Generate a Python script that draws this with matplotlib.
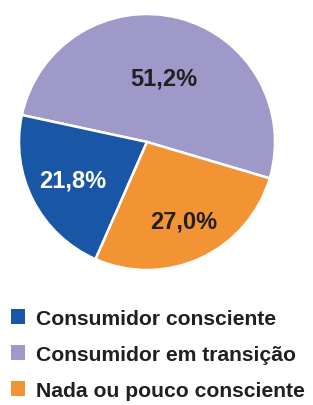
import numpy as np
import matplotlib
matplotlib.use("Agg")
import matplotlib.pyplot as plt
from matplotlib.patches import Patch

categories = ["Consumidor em transição", "Consumidor consciente", "Nada ou pouco consciente"]
values = [51.2, 21.8, 27.0]
labels = ["51,2%", "21,8%", "27,0%"]
colors = ["#9E99C9", "#1A56A6", "#F29433"]
label_colors = ["#231F20", "white", "#231F20"]
label_dist = [0.52, 0.65, 0.68]
legend_order = [1, 0, 2]

W, H = 313, 406
fig = plt.figure(figsize=(W / 100, H / 100), dpi=100)
cx, cy, r = 147, 143, 128
ax = fig.add_axes([(cx - r) / W, (H - cy - r) / H, 2 * r / W, 2 * r / H])
start = -16.5
wedges, _ = ax.pie(values, colors=colors, startangle=start, counterclock=True,
                   wedgeprops=dict(edgecolor="white", linewidth=1.8))
ax.set_xlim(-1, 1)
ax.set_ylim(-1, 1)
ax.set_aspect("equal")

for w, lab, col, d in zip(wedges, labels, label_colors, label_dist):
    ang = np.deg2rad((w.theta1 + w.theta2) / 2)
    ax.text(d * np.cos(ang), d * np.sin(ang), lab, ha="center", va="center",
            fontsize=17, fontweight="bold", color=col, family="Liberation Sans")

handles = [Patch(facecolor=colors[i], edgecolor="none") for i in legend_order]
leg_labels = [categories[i] for i in legend_order]
fig.legend(handles, leg_labels, loc="upper left", bbox_to_anchor=(0.035, 1 - 310 / H),
           frameon=False, handlelength=0.68, handleheight=0.68, handletextpad=0.5,
           labelspacing=0.8, borderaxespad=0, borderpad=0,
           prop=dict(family="Liberation Sans", weight="bold", size=15.2), labelcolor="#231F20")

fig.savefig("out.png", dpi=100)
